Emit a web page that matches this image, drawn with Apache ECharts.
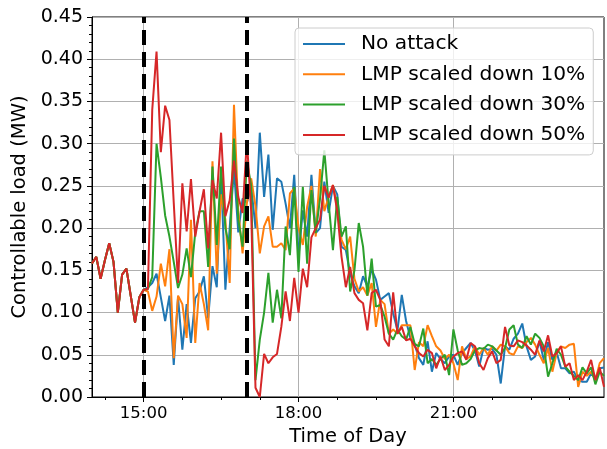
<!DOCTYPE html>
<html><head><meta charset="utf-8">
<script src="https://cdn.jsdelivr.net/npm/echarts@6/dist/echarts.min.js"></script>
<style>html,body{margin:0;padding:0;background:#fff}#c{width:607px;height:449px}</style>
</head><body><div id="c"></div>
<script>
// time categories: 14:00 to 23:55, 5-minute steps
const startMinute = 14 * 60, stepMinute = 5, pointCount = 120;
const categories = [];
for (let k = 0; k < pointCount; k++) {
  const m = startMinute + k * stepMinute;
  categories.push(String(Math.floor(m / 60)).padStart(2, '0') + ':' + String(m % 60).padStart(2, '0'));
}
const majorTickLabels = ['15:00', '18:00', '21:00'];
const minorTickLabels = ['14:15', '15:45', '16:30', '17:15', '18:45', '19:30', '20:15', '21:45', '22:30', '23:15'];
const attackLines = ['15:00', '17:00'];
const seriesNames = ['No attack', 'LMP scaled down 10%', 'LMP scaled down 30%', 'LMP scaled down 50%'];
const seriesColors = ['#1f77b4', '#ff7f0e', '#2ca02c', '#d62728'];

const preAttack = [0.158,0.166,0.140,0.162,0.182,0.160,0.100,0.145,0.152,0.120,0.088,0.118,0.127];

const noAttack = preAttack.concat([
0.130,0.135,0.146,0.118,0.090,0.120,0.038,0.118,0.056,0.110,0.064,0.117,0.125,0.143,0.093,0.155,0.130,0.265,0.127,0.200,0.270,0.195,0.235,0.230,
0.250,0.200,0.313,0.237,0.287,0.198,0.259,0.255,0.229,0.200,0.263,0.166,0.221,0.190,0.263,0.194,0.200,0.255,0.218,0.250,0.240,0.178,0.174,
0.146,0.131,0.123,0.143,0.131,0.151,0.139,0.115,0.119,0.123,0.099,0.079,0.121,0.090,0.070,0.062,0.046,0.038,0.066,0.030,0.052,0.045,0.040,0.048,0.050,
0.038,0.052,0.058,0.064,0.055,0.036,0.058,0.056,0.057,0.050,0.016,0.060,0.056,0.069,0.075,0.087,0.060,0.044,0.048,0.066,0.044,0.065,0.044,0.053,0.034,0.034,0.028,0.030,0.020,0.018,0.018,0.028,0.022,0.034,0.035]);

const scaled10 = preAttack.concat([
0.125,0.102,0.119,0.158,0.131,0.175,0.046,0.120,0.110,0.070,0.210,0.064,0.135,0.110,0.079,0.279,0.146,0.240,0.210,0.135,0.346,0.220,0.170,0.230,
0.259,0.226,0.170,0.202,0.214,0.178,0.178,0.182,0.174,0.241,0.247,0.200,0.180,0.225,0.250,0.190,0.270,0.220,0.237,0.251,0.225,0.186,0.175,
0.190,0.140,0.125,0.130,0.120,0.135,0.083,0.115,0.110,0.075,0.080,0.075,0.085,0.085,0.085,0.032,0.065,0.060,0.085,0.072,0.060,0.055,0.045,0.050,0.040,
0.020,0.060,0.045,0.048,0.060,0.050,0.058,0.050,0.060,0.055,0.062,0.060,0.052,0.050,0.060,0.058,0.065,0.070,0.062,0.050,0.040,0.058,0.030,0.052,0.060,0.058,0.062,0.063,0.012,0.030,0.025,0.030,0.020,0.040,0.046]);

const scaled30 = preAttack.concat([
0.128,0.142,0.300,0.260,0.215,0.190,0.160,0.129,0.145,0.176,0.142,0.195,0.220,0.220,0.154,0.273,0.180,0.273,0.200,0.175,0.306,0.210,0.178,0.280,
0.250,0.020,0.068,0.100,0.147,0.088,0.127,0.093,0.202,0.168,0.249,0.148,0.249,0.158,0.245,0.194,0.235,0.292,0.230,0.174,0.237,0.190,0.202,
0.125,0.150,0.206,0.178,0.120,0.164,0.107,0.109,0.095,0.075,0.068,0.080,0.072,0.068,0.083,0.063,0.060,0.081,0.040,0.045,0.038,0.045,0.050,0.026,0.080,
0.055,0.038,0.040,0.045,0.055,0.058,0.057,0.062,0.060,0.055,0.050,0.058,0.080,0.085,0.062,0.058,0.072,0.062,0.075,0.070,0.060,0.024,0.040,0.057,0.050,0.036,0.030,0.025,0.020,0.035,0.028,0.035,0.015,0.030,0.025]);

const scaled50 = preAttack.concat([
0.128,0.340,0.409,0.290,0.345,0.328,0.230,0.135,0.253,0.196,0.258,0.190,0.220,0.246,0.176,0.257,0.235,0.313,0.214,0.233,0.280,0.237,0.218,0.304,
0.220,0.011,0.000,0.051,0.040,0.047,0.051,0.083,0.125,0.090,0.141,0.100,0.152,0.130,0.189,0.200,0.210,0.250,0.236,0.251,0.220,0.166,0.130,
0.154,0.123,0.115,0.111,0.079,0.123,0.127,0.115,0.068,0.060,0.124,0.075,0.083,0.067,0.069,0.060,0.052,0.048,0.056,0.052,0.034,0.048,0.032,0.038,0.048,
0.052,0.054,0.044,0.064,0.060,0.040,0.032,0.046,0.054,0.040,0.044,0.083,0.061,0.060,0.067,0.065,0.061,0.056,0.050,0.067,0.054,0.073,0.048,0.052,0.060,0.036,0.040,0.020,0.026,0.020,0.030,0.044,0.020,0.035,0.012]);

const seriesData = [noAttack, scaled10, scaled30, scaled50];
const FONT = 'DejaVu Sans';

const chart = echarts.init(document.getElementById('c'), null, {renderer: 'canvas'});
const series = seriesNames.map((name, k) => ({
  name: name,
  type: 'line',
  xAxisIndex: 0,
  data: seriesData[k],
  symbol: 'none',
  showSymbol: false,
  lineStyle: {color: seriesColors[k], width: 2},
  itemStyle: {color: seriesColors[k]},
  z: 2 + k * 0.01,
  animation: false
}));
series.push({
  name: 'attack window',
  type: 'line',
  data: [],
  z: 5,
  silent: true,
  markLine: {
    silent: true,
    symbol: ['none', 'none'],
    label: {show: false},
    animation: false,
    lineStyle: {color: '#000', width: 4, type: [15, 7]},
    emphasis: {disabled: true},
    data: attackLines.map(t => ({xAxis: t}))
  }
});

const option = {
  animation: false,
  textStyle: {fontFamily: FONT, color: '#000'},
  grid: {left: 92, right: 3, top: 17, bottom: 52, show: true, borderColor: '#000', borderWidth: 1,
         backgroundColor: 'transparent', containLabel: false, outerBoundsMode: 'none'},
  legend: {
    data: seriesNames,
    orient: 'vertical',
    left: 295, top: 28,
    itemWidth: 42, itemHeight: 20, itemGap: 10.3,
    padding: [6, 8, 10, 7],
    backgroundColor: 'rgba(255,255,255,0.8)',
    borderColor: '#cccccc', borderWidth: 1, borderRadius: 4,
    itemStyle: {color: 'rgba(0,0,0,0)', borderColor: 'rgba(0,0,0,0)', borderWidth: 0, opacity: 0},
    textStyle: {fontFamily: FONT, fontSize: 20.2, color: '#000', lineHeight: 20, padding: [0, 0, 0, 11]},
    z: 10
  },
  xAxis: [{
    type: 'category', data: categories, boundaryGap: false, position: 'bottom',
    axisLine: {show: true, lineStyle: {color: '#000', width: 1}},
    axisTick: {show: true, interval: (i, v) => majorTickLabels.includes(v), length: 5, lineStyle: {color: '#000', width: 1}},
    axisLabel: {interval: (i, v) => majorTickLabels.includes(v), fontFamily: FONT, fontSize: 16.5, color: '#000', margin: 8},
    splitLine: {show: true, interval: (i, v) => majorTickLabels.includes(v), lineStyle: {color: '#b0b0b0', width: 1}},
    name: 'Time of Day', nameLocation: 'middle', nameGap: 30,
    nameTextStyle: {fontFamily: FONT, fontSize: 19.5, color: '#000'}
  }, {
    type: 'category', data: categories, boundaryGap: false, position: 'bottom',
    axisLine: {show: false}, axisLabel: {show: false}, splitLine: {show: false},
    axisTick: {show: true, interval: (i, v) => minorTickLabels.includes(v), length: 3, lineStyle: {color: '#000', width: 1}}
  }],
  yAxis: {
    type: 'value', min: 0, max: 0.45, interval: 0.05,
    axisLine: {show: true, lineStyle: {color: '#000', width: 1}},
    axisTick: {show: true, length: 5, lineStyle: {color: '#000', width: 1}},
    minorTick: {show: true, splitNumber: 5, length: 3, lineStyle: {color: '#000', width: 1}},
    axisLabel: {formatter: v => v.toFixed(2), fontFamily: FONT, fontSize: 19, color: '#000', margin: 9},
    splitLine: {show: true, lineStyle: {color: '#b0b0b0', width: 1}},
    name: 'Controllable load (MW)', nameLocation: 'middle', nameGap: 60,
    nameTextStyle: {fontFamily: FONT, fontSize: 19.5, color: '#000'}
  },
  series: series
};
chart.setOption(option);
</script></body></html>
